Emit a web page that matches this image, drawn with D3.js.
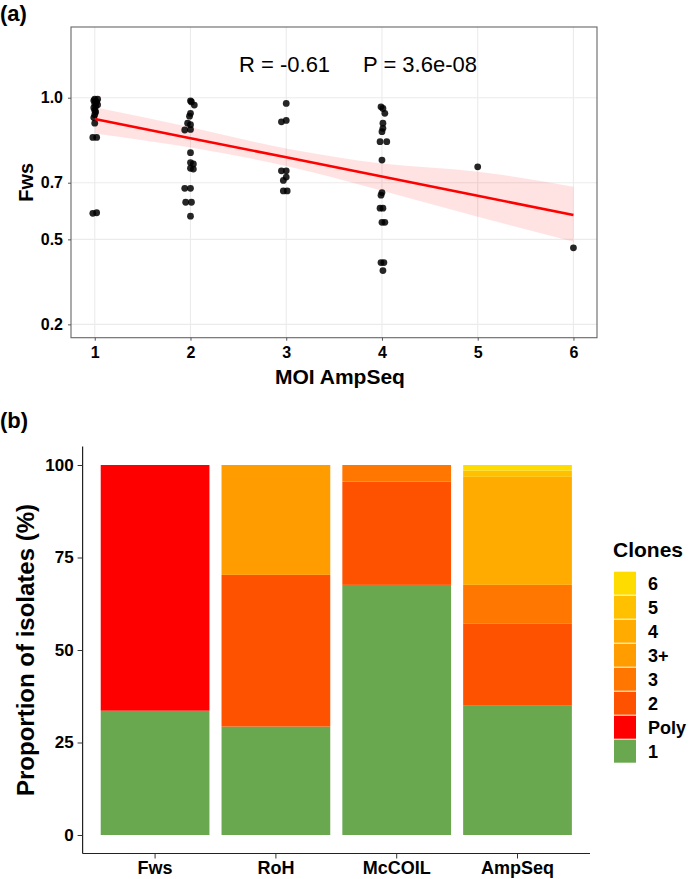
<!DOCTYPE html>
<html>
<head>
<meta charset="utf-8">
<script src="https://cdn.jsdelivr.net/npm/d3@7"></script>
<style>
body { margin: 0; background: #fff; }
text { font-family: "Liberation Sans", Arial, sans-serif; }
</style>
</head>
<body>
<div id="chart"></div>
<script>
// ---- panel (a): Fws vs MOI AmpSeq (x has the small jitter)
const moiX = [
    1.00, 1.03, 0.99, 1.02, 1.00, 1.03, 1.01, 0.99, 1.00, 1.01, 1.00, 0.99, 1.00, 0.98, 1.02, 0.98, 1.02,
    2.00, 2.01, 2.04, 2.00, 1.99, 1.97, 2.00, 1.94, 2.00, 2.00, 2.00, 2.03, 2.00, 2.03, 1.94, 2.00, 1.95, 2.01, 2.00,
    3.00, 2.95, 3.00, 2.95, 3.00, 3.00, 2.97, 2.97, 3.01,
    3.99, 4.01, 4.03, 4.01, 4.01, 4.00, 3.98, 4.05, 4.00, 4.00, 3.99, 3.98, 4.01, 4.00, 4.03, 3.99, 4.02, 4.01,
    5.00,
    6.00
];
const fwsY = [
    0.995, 0.995, 0.99, 0.985, 0.98, 0.975, 0.97, 0.965, 0.955, 0.95, 0.94, 0.93, 0.91, 0.86, 0.86, 0.592, 0.594,
    0.989, 0.985, 0.974, 0.945, 0.935, 0.91, 0.905, 0.886, 0.888, 0.806, 0.771, 0.766, 0.751, 0.748, 0.68, 0.68, 0.631, 0.631, 0.582,
    0.98, 0.915, 0.92, 0.742, 0.742, 0.72, 0.708, 0.671, 0.671,
    0.968, 0.962, 0.945, 0.91, 0.892, 0.88, 0.845, 0.845, 0.78, 0.665, 0.656, 0.61, 0.61, 0.56, 0.56, 0.418, 0.418, 0.39,
    0.756,
    0.47
];
// fitted line and its confidence band
const fitX = [1, 2, 3, 4, 5, 6];
const fitY = [0.925, 0.857, 0.790, 0.722, 0.654, 0.586];
const bandLow = [0.874, 0.824, 0.759, 0.672, 0.580, 0.492];
const bandHigh = [0.966, 0.896, 0.821, 0.768, 0.739, 0.686];
const xTicksA = [1, 2, 3, 4, 5, 6];
const yTicksA = [0.2, 0.5, 0.7, 1.0];
const statR = "R = -0.61";
const statP = "P = 3.6e-08";

// ---- panel (b): stacked proportions
const methods = ["Fws", "RoH", "McCOIL", "AmpSeq"];
const clones = ["1", "Poly", "2", "3", "3+", "4", "5", "6"];   // bottom -> top
const clone1 = [33.6, 29.3, 67.6, 35.1];
const clonePoly = [66.4, 0, 0, 0];
const clone2 = [0, 41.0, 27.9, 22.1];
const clone3 = [0, 0, 4.5, 10.4];
const clone3plus = [0, 29.7, 0, 0];
const clone4 = [0, 0, 0, 29.2];
const clone5 = [0, 0, 0, 1.7];
const clone6 = [0, 0, 0, 1.5];
const yTicksB = [0, 25, 50, 75, 100];
const cloneColors = ["#6aa84f", "#ff0000", "#ff5200", "#ff7600", "#ff9c00", "#ffab00", "#ffc000", "#ffdc00"];

const svg = d3.select("#chart")
    .append("svg")
    .attr("width", 689)
    .attr("height", 879);

// ================= panel (a) =================
const pa = { left: 71, right: 597, top: 27, bottom: 337.7 };

const x = d3.scaleLinear().domain([0.752, 6.246]).range([pa.left, pa.right]);
const y = d3.scaleLinear().domain([0.1529, 1.2496]).range([pa.bottom, pa.top]);

// grid
svg.append("g")
    .selectAll("line")
    .data(yTicksA)
    .enter()
    .append("line")
    .attr("x1", pa.left).attr("x2", pa.right)
    .attr("y1", d => y(d)).attr("y2", d => y(d))
    .attr("stroke", "#ebebeb").attr("stroke-width", 1.1);

svg.append("g")
    .selectAll("line")
    .data(xTicksA)
    .enter()
    .append("line")
    .attr("x1", d => x(d)).attr("x2", d => x(d))
    .attr("y1", pa.top).attr("y2", pa.bottom)
    .attr("stroke", "#ebebeb").attr("stroke-width", 1.1);

// confidence band + fit line
const bandData = fitX.map((v, i) => ({ x: v, lo: bandLow[i], hi: bandHigh[i], fit: fitY[i] }));

svg.append("path")
    .datum(bandData)
    .attr("d", d3.area()
        .x(d => x(d.x))
        .y0(d => y(d.lo))
        .y1(d => y(d.hi))
        .curve(d3.curveMonotoneX))
    .attr("fill", "#ff0000")
    .attr("fill-opacity", 0.11);

// points
const pts = moiX.map((v, i) => ({ moi: v, fws: fwsY[i] }));
svg.append("g")
    .selectAll("circle")
    .data(pts)
    .enter()
    .append("circle")
    .attr("cx", d => x(d.moi))
    .attr("cy", d => y(d.fws))
    .attr("r", 3.4)
    .attr("fill", "#000")
    .attr("fill-opacity", 0.85);

svg.append("path")
    .datum(bandData)
    .attr("d", d3.line().x(d => x(d.x)).y(d => y(d.fit)))
    .attr("fill", "none")
    .attr("stroke", "#ff0000")
    .attr("stroke-width", 2.6);

// panel border
svg.append("rect")
    .attr("x", pa.left).attr("y", pa.top)
    .attr("width", pa.right - pa.left).attr("height", pa.bottom - pa.top)
    .attr("fill", "none")
    .attr("stroke", "#666")
    .attr("stroke-width", 1.1);

// axes
const axA_y = svg.append("g")
    .attr("transform", `translate(${pa.left},0)`)
    .call(d3.axisLeft(y).tickValues(yTicksA).tickFormat(d3.format(".1f")).tickSize(3).tickPadding(5));
const axA_x = svg.append("g")
    .attr("transform", `translate(0,${pa.bottom})`)
    .call(d3.axisBottom(x).tickValues(xTicksA).tickFormat(d3.format("d")).tickSize(3).tickPadding(6));
[axA_y, axA_x].forEach(g => {
    g.select(".domain").remove();
    g.selectAll(".tick line").attr("stroke", "#555");
    g.selectAll("text")
        .style("font-size", "16px")
        .style("font-weight", "bold")
        .attr("fill", "#000");
});

svg.append("text")
    .attr("x", 239).attr("y", 72)
    .style("font-size", "22px")
    .attr("fill", "#000")
    .text(statR);
svg.append("text")
    .attr("x", 363).attr("y", 72)
    .style("font-size", "22px")
    .attr("fill", "#000")
    .text(statP);

svg.append("text")
    .attr("x", 340).attr("y", 384)
    .attr("text-anchor", "middle")
    .style("font-size", "21px").style("font-weight", "bold")
    .text("MOI AmpSeq");

svg.append("text")
    .attr("transform", `translate(33,${(pa.top + pa.bottom) / 2}) rotate(-90)`)
    .attr("text-anchor", "middle")
    .style("font-size", "20px").style("font-weight", "bold")
    .text("Fws");

svg.append("text")
    .attr("x", 0).attr("y", 21)
    .style("font-size", "22px").style("font-weight", "bold")
    .text("(a)");

// ================= panel (b) =================
const pb = { left: 82.6, right: 590, top: 446.5, bottom: 853.5 };

const xb = d3.scaleBand()
    .domain(methods)
    .range([pb.left, pb.right])
    .paddingInner(0.1)
    .paddingOuter(0.15);

const yb = d3.scaleLinear().domain([-5, 105]).range([pb.bottom, pb.top]);

const cloneValues = [clone1, clonePoly, clone2, clone3, clone3plus, clone4, clone5, clone6];
const rows = methods.map((m, i) => {
    const r = { method: m };
    clones.forEach((c, k) => { r[c] = cloneValues[k][i]; });
    return r;
});
const color = d3.scaleOrdinal().domain(clones).range(cloneColors);
const stacked = d3.stack().keys(clones)(rows);

svg.append("g")
    .selectAll("g")
    .data(stacked)
    .enter()
    .append("g")
    .attr("fill", d => color(d.key))
    .selectAll("rect")
    .data(d => d.filter(s => s[1] - s[0] > 0))
    .enter()
    .append("rect")
    .attr("x", d => xb(d.data.method))
    .attr("width", xb.bandwidth())
    .attr("y", d => yb(d[1]))
    .attr("height", d => yb(d[0]) - yb(d[1]));

const axB_y = svg.append("g")
    .attr("transform", `translate(${pb.left},0)`)
    .call(d3.axisLeft(yb).tickValues(yTicksB).tickSize(5).tickPadding(4));
const axB_x = svg.append("g")
    .attr("transform", `translate(0,${pb.bottom})`)
    .call(d3.axisBottom(xb).tickSize(5).tickPadding(3));
[axB_y, axB_x].forEach(g => {
    g.select(".domain").attr("stroke", "#222").attr("stroke-width", 1.2);
    g.selectAll(".tick line").attr("stroke", "#333");
    g.selectAll("text")
        .style("font-size", "17px")
        .style("font-weight", "bold")
        .attr("fill", "#000");
});
axB_x.selectAll("text").style("font-size", "18px");
axB_y.select(".domain").attr("d", `M0,${pb.top}V${pb.bottom}`);
axB_x.select(".domain").attr("d", `M${pb.left},0H${pb.right}`);

svg.append("text")
    .attr("transform", `translate(34,${yb(50)}) rotate(-90)`)
    .attr("text-anchor", "middle")
    .style("font-size", "24px").style("font-weight", "bold")
    .text("Proportion of isolates (%)");

svg.append("text")
    .attr("x", 0).attr("y", 428)
    .style("font-size", "22px").style("font-weight", "bold")
    .text("(b)");

// legend
svg.append("text")
    .attr("x", 613).attr("y", 557)
    .style("font-size", "21px").style("font-weight", "bold")
    .text("Clones");

const legend = svg.selectAll(".legend")
    .data(clones.slice().reverse())
    .enter()
    .append("g")
    .attr("transform", (d, i) => `translate(614,${571.7 + i * 24})`);

legend.append("rect")
    .attr("width", 22)
    .attr("height", 23)
    .attr("fill", d => color(d));

legend.append("text")
    .attr("x", 34)
    .attr("y", 11.5)
    .attr("dy", "0.36em")
    .style("font-size", "18px")
    .style("font-weight", "bold")
    .text(d => d);
</script>
</body>
</html>
